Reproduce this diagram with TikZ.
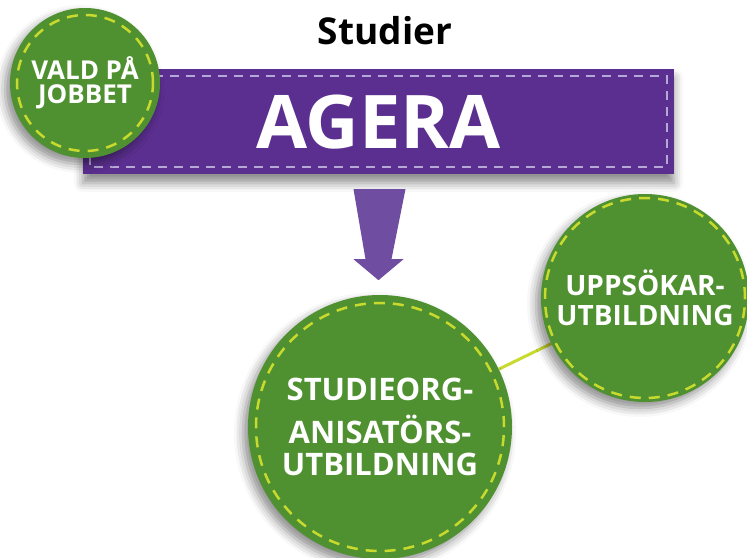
\documentclass[tikz,border=0pt]{standalone}
\usepackage{fontspec}
\setmainfont{Open Sans}
\usetikzlibrary{shadows.blur,backgrounds,calc}

\definecolor{leaf}{RGB}{79,145,48}
\definecolor{lime}{RGB}{200,218,46}
\definecolor{plum}{RGB}{91,47,143}
\definecolor{lilac}{RGB}{182,168,216}
\definecolor{arrowplum}{RGB}{111,77,161}

\begin{document}
\begin{tikzpicture}[x=1pt,y=-1pt,
	badge/.style={circle, fill=leaf, inner sep=0pt, text=white, align=center,
		blur shadow={shadow xshift=-5pt, shadow yshift=-6pt, shadow blur radius=9pt, shadow opacity=45}},
	seam/.style={draw=lime, line width=2.5pt, dash pattern=on 11pt off 8pt},
	banner/.style={rectangle, fill=plum, inner sep=0pt, text=white,
		blur shadow={shadow xshift=0pt, shadow yshift=-9pt, shadow blur radius=9pt, shadow opacity=45}},
	bannerseam/.style={draw=lilac, line width=2.3pt, dash pattern=on 9pt off 7pt},
	twig/.style={draw=lime, line width=3pt}]
	\useasboundingbox (0,0) rectangle (747,557);
	\clip (0,0) rectangle (747,557);

	% Title and banner
	\node[font=\bfseries\fontsize{37}{40}\selectfont] (studier) at (385,31) {Studier};
	\node[banner, minimum width=591pt, minimum height=105pt, text depth=0pt,
		font=\bfseries\fontsize{74}{76}\selectfont] (agera) at (378.5,121.5) {AGERA};
	\draw[bannerseam] ([shift={(7,7)}]agera.north west) rectangle ([shift={(-7,-7)}]agera.south east);

	% Badge on the banner corner
	\node[badge, minimum size=150pt, font=\bfseries\fontsize{26}{24}\selectfont] (vald) at (85,83) {VALD PÅ\\JOBBET};
	\draw[seam] (vald.center) circle[radius=68pt];

	% Arrow down
	\draw[fill=arrowplum, draw=none] ($(agera.south)+(-25,15)$) -- ($(agera.south)+(27,15)$)
		-- ($(agera.south)+(13,85)$) -- ($(agera.south)+(25,85)$) -- ($(agera.south)+(0,106)$)
		-- ($(agera.south)+(-25,85)$) -- ($(agera.south)+(-13,85)$) -- cycle;

	% Training circles
	\node[badge, minimum size=264pt, font=\bfseries\fontsize{31}{32}\selectfont] (org) at (380,427)
		{STUDIEORG-\\[11pt]ANISATÖRS-\\UTBILDNING};
	\draw[seam] (org.center) circle[radius=124pt];
	\node[badge, minimum size=208pt, font=\bfseries\fontsize{28}{30}\selectfont] (upps) at (645,298)
		{UPPSÖKAR-\\UTBILDNING};
	\draw[seam] (upps.center) circle[radius=100pt];

	\begin{scope}[on background layer]
		\draw[twig] (org) -- (upps);
	\end{scope}
\end{tikzpicture}
\end{document}
